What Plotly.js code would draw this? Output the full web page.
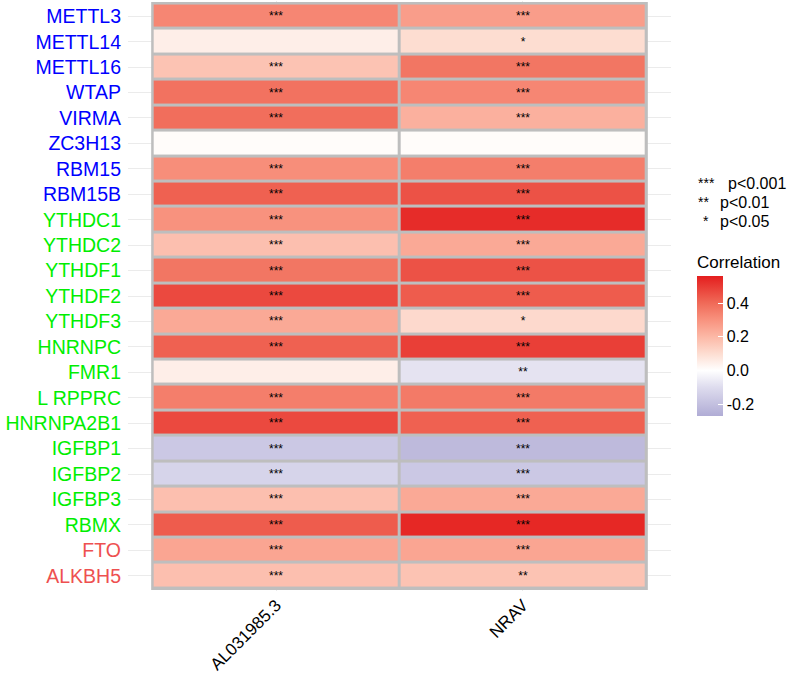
<!DOCTYPE html>
<html>
<head>
<meta charset="utf-8">
<script src="https://cdn.plot.ly/plotly-3.0.1.min.js"></script>
<style>
  body { margin: 0; background: #fff; }
  #chart { width: 789px; height: 674px; }
</style>
</head>
<body>
<div id="chart"></div>
<script>
// columns (lncRNAs) and rows (m6A regulators)
var lncs = ["AL031985.3", "NRAV"];
var genes = ["METTL3", "METTL14", "METTL16", "WTAP", "VIRMA", "ZC3H13", "RBM15", "RBM15B",
             "YTHDC1", "YTHDC2", "YTHDF1", "YTHDF2", "YTHDF3", "HNRNPC", "FMR1", "L RPPRC",
             "HNRNPA2B1", "IGFBP1", "IGFBP2", "IGFBP3", "RBMX", "FTO", "ALKBH5"];
var geneGroup = ["writer", "writer", "writer", "writer", "writer", "writer", "writer", "writer",
                 "reader", "reader", "reader", "reader", "reader", "reader", "reader", "reader",
                 "reader", "reader", "reader", "reader", "reader", "eraser", "eraser"];

// correlation
var corAL = [0.33, 0.05, 0.17, 0.38, 0.39, 0.01, 0.31, 0.42,
             0.30, 0.18, 0.37, 0.47, 0.24, 0.42, 0.05, 0.35,
             0.47, -0.17, -0.13, 0.18, 0.43, 0.25, 0.18];
var corNRAV = [0.27, 0.10, 0.37, 0.33, 0.22, 0.01, 0.35, 0.45,
               0.53, 0.24, 0.45, 0.43, 0.11, 0.49, -0.08, 0.36,
               0.42, -0.22, -0.17, 0.24, 0.54, 0.25, 0.17];

// significance labels
var sigAL = ["***", "", "***", "***", "***", "", "***", "***",
             "***", "***", "***", "***", "***", "***", "", "***",
             "***", "***", "***", "***", "***", "***", "***"];
var sigNRAV = ["***", "*", "***", "***", "***", "", "***", "***",
               "***", "***", "***", "***", "*", "***", "**", "***",
               "***", "***", "***", "***", "***", "***", "**"];

var sigKeys = ["***", "**", "*"];
var sigText = ["p<0.001", "p<0.01", "p<0.05"];

var groupColor = { writer: "#0000FF", reader: "#00EE00", eraser: "#EE5050" };
var FONT = "Liberation Sans, Arial, sans-serif";

// build z / text matrices, row per gene
var z = [], txt = [];
for (var i = 0; i < genes.length; i++) {
  z.push([corAL[i], corNRAV[i]]);
  txt.push([sigAL[i], sigNRAV[i]]);
}

var tickText = genes.map(function (g, i) {
  return "<span style='color:" + groupColor[geneGroup[i]] + "'>" + g + "</span>";
});

var zmin = -0.27, zmax = 0.56;
function pos(v) { return (v - zmin) / (zmax - zmin); }

var trace = {
  type: "heatmap",
  x: lncs,
  y: genes,
  z: z,
  text: txt,
  texttemplate: "%{text}",
  textfont: { family: FONT, size: 12, color: "black" },
  zmin: zmin,
  zmax: zmax,
  xgap: 3,
  ygap: 3,
  colorscale: [
    [0, "rgb(176,172,213)"],
    [pos(-0.1), "rgb(222,220,238)"],
    [pos(0), "rgb(255,255,255)"],
    [pos(0.1), "rgb(253,221,209)"],
    [pos(0.2), "rgb(252,184,166)"],
    [pos(0.3), "rgb(248,146,126)"],
    [pos(0.4), "rgb(240,106,88)"],
    [1, "rgb(228,30,30)"]
  ],
  colorbar: {
    x: (697 - 128) / 543, xanchor: "left", xpad: 0,
    y: (591 - 416) / 590.5, yanchor: "bottom", ypad: 0,
    lenmode: "pixels", len: 164,
    thickness: 26,
    outlinewidth: 0,
    ticks: "inside", ticklen: 5, tickcolor: "#fff", tickwidth: 1,
    tickvals: [-0.2, 0, 0.2, 0.4],
    ticktext: ["-0.2", "0.0", "0.2", "0.4"],
    tickfont: { family: FONT, size: 16, color: "#000" },
    title: { text: "Correlation", side: "top",
             font: { family: FONT, size: 17, color: "#000" } }
  },
  hoverongaps: false
};

var annots = [];
var legY = [183, 202, 221];
var starX = [696, 696, 701];
var pX = [726, 718, 718];
for (var k = 0; k < sigKeys.length; k++) {
  annots.push({
    xref: "paper", yref: "paper",
    x: (starX[k] - 128) / 543, y: (591 - legY[k]) / 590.5,
    xanchor: "left", yanchor: "middle", showarrow: false,
    text: sigKeys[k],
    font: { family: FONT, size: 14, color: "#000" }
  });
  annots.push({
    xref: "paper", yref: "paper",
    x: (pX[k] - 128) / 543, y: (591 - legY[k]) / 590.5,
    xanchor: "left", yanchor: "middle", showarrow: false,
    text: sigText[k],
    font: { family: FONT, size: 16, color: "#000" }
  });
}

var layout = {
  width: 789,
  height: 674,
  margin: { l: 128, r: 118, t: 1, b: 83, pad: 0 },
  paper_bgcolor: "#fff",
  plot_bgcolor: "#fff",
  showlegend: false,
  xaxis: {
    type: "category",
    range: [-0.6, 1.6],
    showgrid: true, gridcolor: "#EBEBEB", gridwidth: 1,
    zeroline: false, showline: false, ticks: "",
    tickangle: -45,
    tickfont: { family: FONT, size: 17, color: "#000" },
    fixedrange: true
  },
  yaxis: {
    type: "category",
    range: [22.6, -0.6],
    tickmode: "array",
    tickvals: genes,
    ticktext: tickText,
    showgrid: true, gridcolor: "#EBEBEB", gridwidth: 1,
    zeroline: false, showline: false, ticks: "",
    ticklabelstandoff: 6,
    tickfont: { family: FONT, size: 19.5 },
    fixedrange: true
  },
  shapes: [{
    type: "rect", xref: "x", yref: "y",
    x0: -0.5, x1: 1.5, y0: -0.5, y1: 22.5,
    fillcolor: "#BEBEBE",
    line: { color: "#BEBEBE", width: 3 },
    layer: "between"
  }],
  annotations: annots
};

Plotly.newPlot("chart", [trace], layout, { displayModeBar: false, staticPlot: true });
</script>
</body>
</html>
